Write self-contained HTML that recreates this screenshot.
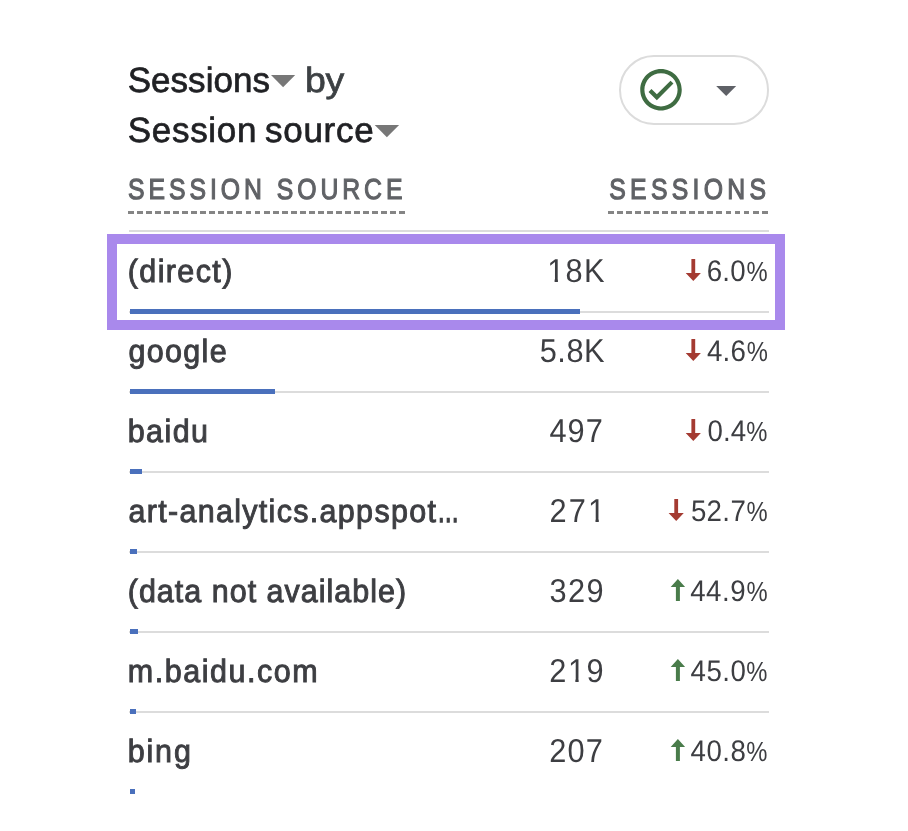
<!DOCTYPE html>
<html lang="en">
<head>
<meta charset="utf-8">
<title>Sessions by Session source</title>
<style>
*{box-sizing:border-box;margin:0;padding:0}
html,body{width:908px;height:831px;background:#fff;overflow:hidden}
body{position:relative;font-family:"Liberation Sans",Arial,sans-serif;color:#3c4043;text-rendering:geometricPrecision}
.t{position:absolute;white-space:nowrap;line-height:1;transform-origin:0 0}
.title{font-size:35px;color:#202124;-webkit-text-stroke:0.7px #202124}
.hdr{font-size:28.8px;color:#606266;-webkit-text-stroke:1.15px #606266}
.name{font-size:32.1px;color:#3d3e42;-webkit-text-stroke:0.95px #3d3e42}
.num{font-size:33.1px;color:#3d3e42}
.pct{font-size:29.75px;color:#3d3e42}
.pc{display:inline-block;transform:scale(0.86,.93);transform-origin:100% 84.6%;margin-left:-3.7px;letter-spacing:0}
.el{display:inline-block;transform:scaleX(.72);transform-origin:0 50%;margin-right:-9.2px;letter-spacing:0;-webkit-text-stroke-width:1.5px}
.one{display:inline-block;clip-path:polygon(-.1em -.2em,.7em -.2em,.7em .715em,.35em .715em,.35em 1.2em,.242em 1.2em,.242em .715em,-.1em .715em)}
.dash{position:absolute;height:3px;background:repeating-linear-gradient(90deg,#858585 0,#858585 5.9px,transparent 5.9px,transparent 9.04px)}
.sep{position:absolute;left:129px;width:640px;height:2px;background:#dcdcdc}
.bar{position:absolute;left:130px;height:5px;background:#4a70bc}
.hl{position:absolute;left:107px;top:234px;width:678px;height:96px;border:10px solid #a989ec}
.pill{position:absolute;left:619px;top:55px;width:150px;height:70px;border:2px solid #dcdcdc;border-radius:35px;background:#fff}
svg{position:absolute;overflow:visible}
h2{font-weight:normal;font-size:inherit}
</style>
</head>
<body>
<main class="card">
<header class="card-head">
<h2 class="card-title">
<span class="t title" id="t1" style="left:127px;top:63px;letter-spacing:0.058px;transform:translateX(0.626px);">Sessions</span>
<span class="t title" id="t2" style="color:#3c4043;-webkit-text-stroke-color:#3c4043;left:305px;top:63px;letter-spacing:-0.167px;transform:translateX(-0.085px) scaleX(1.07);">by</span>
<span class="t title" id="t3" style="word-spacing:-2.6px;left:127px;top:113px;letter-spacing:0.713px;transform:translateX(0.683px);">Session source</span>
</h2>
<svg width="908" height="831" style="left:0;top:0" viewBox="0 0 908 831" aria-hidden="true">
<polygon points="271,74.9 295.2,74.9 283.1,87.3" fill="#777"/>
<polygon points="374.7,124.9 399.1,124.9 386.9,137.3" fill="#777"/>
</svg>
<div class="status">
<div class="pill"></div>
<svg width="908" height="831" style="left:0;top:0" viewBox="0 0 908 831" aria-hidden="true">
<g transform="translate(661 89.8) scale(2.075) translate(-12 -12)" fill="#3f6c42">
<path d="M12 2C6.48 2 2 6.48 2 12s4.48 10 10 10 10-4.48 10-10S17.52 2 12 2zm0 18c-4.42 0-8-3.58-8-8s3.58-8 8-8 8 3.58 8 8-3.58 8-8 8z"/>
<path d="M16.59 7.58L10 14.17l-2.59-2.58L6 13l4 4 8-8z"/>
</g>
<polygon points="716.2,85.9 736.2,85.9 726.2,96.1" fill="#5f6167"/>
</svg>
</div>
</header>
<section class="tbl" role="table" aria-label="Sessions by Session source">
<div class="thead" role="row">
<div role="columnheader" class="t hdr" id="h1" style="left:126px;top:176px;letter-spacing:4.607px;transform:translateX(2.007px) scaleX(0.86);">SESSION SOURCE</div>
<div role="columnheader" class="t hdr" id="h2" style="left:607px;top:176px;letter-spacing:5.022px;transform:translateX(2.24px) scaleX(0.86);">SESSIONS</div>
<div class="dash" style="left:128px;top:211px;width:277px"></div>
<div class="dash" style="left:608px;top:211px;width:160px"></div>
<div class="sep" style="top:230px"></div>
</div>
<div class="row" role="row">
<div role="cell" class="t name" id="n0" style="left:127px;top:255px;letter-spacing:1.48px;transform:translateX(0.73px) scaleX(0.95);">(direct)</div>
<div role="cell" class="t num" id="v0" style="left:548px;top:255px;letter-spacing:1.389px;transform:translateX(-0.856px) scaleX(0.93);"><span class="one">1</span>8K</div>
<svg width="908" height="831" style="left:0;top:0" viewBox="0 0 908 831" aria-hidden="true"><path d="M691.4,259.1 h3.8 v13.9 h5.7 l-7.6,7.9 l-7.6,-7.9 h5.7 z" fill="#a43b32"/></svg>
<div role="cell" class="t pct" id="p0" style="left:706px;top:257px;letter-spacing:0.34px;transform:translateX(0.662px) scaleX(0.93);">6.0<span class="pc">%</span></div>
<div class="sep" style="top:310.5px"></div>
<div class="bar" style="top:309px;width:450.0px"></div>
</div>
<div class="row" role="row">
<div role="cell" class="t name" id="n1" style="left:127px;top:335px;letter-spacing:1.359px;transform:translateX(1.62px) scaleX(0.95);">google</div>
<div role="cell" class="t num" id="v1" style="left:539px;top:335px;letter-spacing:0.495px;transform:translateX(0.802px) scaleX(0.93);">5.8K</div>
<svg width="908" height="831" style="left:0;top:0" viewBox="0 0 908 831" aria-hidden="true"><path d="M691.4,339.1 h3.8 v13.9 h5.7 l-7.6,7.9 l-7.6,-7.9 h5.7 z" fill="#a43b32"/></svg>
<div role="cell" class="t pct" id="p1" style="left:705px;top:337px;letter-spacing:0.294px;transform:translateX(1.93px) scaleX(0.93);">4.6<span class="pc">%</span></div>
<div class="sep" style="top:390.5px"></div>
<div class="bar" style="top:389px;width:145.0px"></div>
</div>
<div class="row" role="row">
<div role="cell" class="t name" id="n2" style="left:127px;top:415px;letter-spacing:1.471px;transform:translateX(0.768px) scaleX(0.95);">baidu</div>
<div role="cell" class="t num" id="v2" style="left:548px;top:415px;letter-spacing:1.099px;transform:translateX(1.452px) scaleX(0.93);">497</div>
<svg width="908" height="831" style="left:0;top:0" viewBox="0 0 908 831" aria-hidden="true"><path d="M691.4,419.1 h3.8 v13.9 h5.7 l-7.6,7.9 l-7.6,-7.9 h5.7 z" fill="#a43b32"/></svg>
<div role="cell" class="t pct" id="p2" style="left:706px;top:417px;letter-spacing:0.172px;transform:translateX(1.417px) scaleX(0.93);">0.4<span class="pc">%</span></div>
<div class="sep" style="top:470.5px"></div>
<div class="bar" style="top:469px;width:12.4px"></div>
</div>
<div class="row" role="row">
<div role="cell" class="t name" id="n3" style="left:127px;top:495px;letter-spacing:1.386px;transform:translateX(1.415px) scaleX(0.95);">art-analytics.appspot<span class="el">…</span></div>
<div role="cell" class="t num" id="v3" style="left:549px;top:495px;letter-spacing:2.329px;transform:translateX(0.474px) scaleX(0.93);">27<span class="one">1</span></div>
<svg width="908" height="831" style="left:0;top:0" viewBox="0 0 908 831" aria-hidden="true"><path d="M674.3,499.1 h3.8 v13.9 h5.7 l-7.6,7.9 l-7.6,-7.9 h5.7 z" fill="#a43b32"/></svg>
<div role="cell" class="t pct" id="p3" style="left:690px;top:497px;letter-spacing:0.378px;transform:translateX(0.876px) scaleX(0.93);">52.7<span class="pc">%</span></div>
<div class="sep" style="top:550.5px"></div>
<div class="bar" style="top:549px;width:6.8px"></div>
</div>
<div class="row" role="row">
<div role="cell" class="t name" id="n4" style="left:127px;top:575px;letter-spacing:1.063px;transform:translateX(0.73px) scaleX(0.95);">(data not available)</div>
<div role="cell" class="t num" id="v4" style="left:548px;top:575px;letter-spacing:1.556px;transform:translateX(1.479px) scaleX(0.93);">329</div>
<svg width="908" height="831" style="left:0;top:0" viewBox="0 0 908 831" aria-hidden="true"><path d="M675.9,600.9 h4 v-13.9 h5.2 l-7.2,-8.1 l-7.2,8.1 h5.2 z" fill="#4a7c4b"/></svg>
<div role="cell" class="t pct" id="p4" style="left:689px;top:577px;letter-spacing:0.639px;transform:translateX(1.13px) scaleX(0.93);">44.9<span class="pc">%</span></div>
<div class="sep" style="top:630.5px"></div>
<div class="bar" style="top:629px;width:8.2px"></div>
</div>
<div class="row" role="row">
<div role="cell" class="t name" id="n5" style="left:127px;top:655px;letter-spacing:1.637px;transform:translateX(0.721px) scaleX(0.95);">m.baidu.com</div>
<div role="cell" class="t num" id="v5" style="left:548px;top:655px;letter-spacing:1.614px;transform:translateX(1.269px) scaleX(0.93);">2<span class="one">1</span>9</div>
<svg width="908" height="831" style="left:0;top:0" viewBox="0 0 908 831" aria-hidden="true"><path d="M675.9,680.9 h4 v-13.9 h5.2 l-7.2,-8.1 l-7.2,8.1 h5.2 z" fill="#4a7c4b"/></svg>
<div role="cell" class="t pct" id="p5" style="left:689px;top:657px;letter-spacing:0.521px;transform:translateX(1.618px) scaleX(0.93);">45.0<span class="pc">%</span></div>
<div class="sep" style="top:710.5px"></div>
<div class="bar" style="top:709px;width:5.5px"></div>
</div>
<div class="row" role="row">
<div role="cell" class="t name" id="n6" style="left:127px;top:735px;letter-spacing:1.962px;transform:translateX(0.643px) scaleX(0.95);">bing</div>
<div role="cell" class="t num" id="v6" style="left:548px;top:735px;letter-spacing:1.268px;transform:translateX(1.144px) scaleX(0.93);">207</div>
<svg width="908" height="831" style="left:0;top:0" viewBox="0 0 908 831" aria-hidden="true"><path d="M675.9,760.9 h4 v-13.9 h5.2 l-7.2,-8.1 l-7.2,8.1 h5.2 z" fill="#4a7c4b"/></svg>
<div role="cell" class="t pct" id="p6" style="left:689px;top:737px;letter-spacing:0.521px;transform:translateX(1.618px) scaleX(0.93);">40.8<span class="pc">%</span></div>
<div class="bar" style="top:789px;width:5.2px"></div>
</div>
</section>
<div class="hl"></div>
</main>
</body>
</html>
